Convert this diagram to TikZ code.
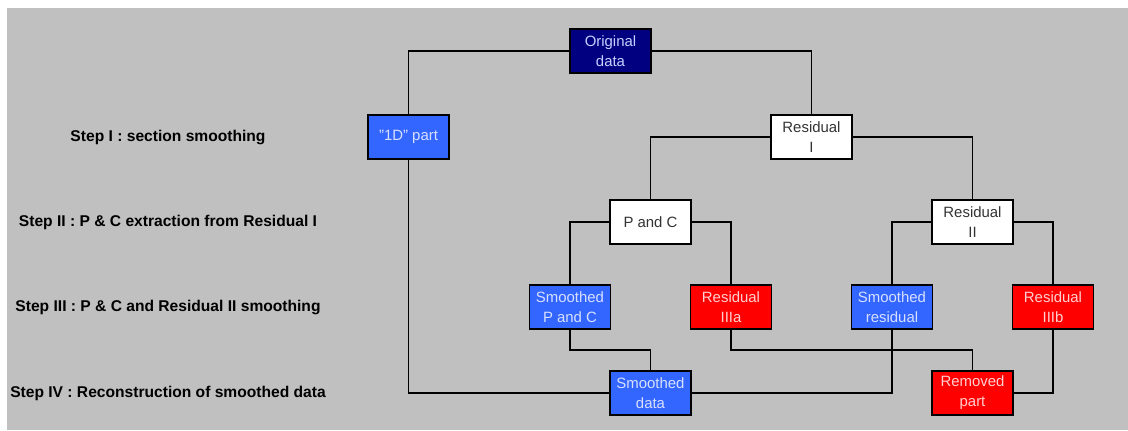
\documentclass[tikz,border=0pt]{standalone}
\usepackage{fontspec}
\setmainfont{Liberation Sans}
\definecolor{SMgray}{HTML}{C0C0C0}
\definecolor{SMnavy}{HTML}{000080}
\definecolor{SMblue}{HTML}{3366FF}
\definecolor{SMred}{HTML}{FF0000}
\definecolor{SMnavytext}{HTML}{C8D0FF}
\definecolor{SMbluetext}{HTML}{D8E0FF}
\definecolor{SMredtext}{HTML}{FFD0D0}
\usetikzlibrary{calc, positioning}

\begin{document}
\begin{tikzpicture}[x=0.75pt, y=-0.75pt,
   box/.style={draw=black, line width=1.3pt, minimum width=60.75pt, minimum height=33pt,
      inner sep=0pt, align=center, font=\fontsize{11.2}{15}\selectfont},
   origbox/.style={box, fill=SMnavy, text=SMnavytext},
   keptbox/.style={box, fill=SMblue, text=SMbluetext},
   resbox/.style={box, fill=white, text=black!80},
   cutbox/.style={box, fill=SMred, text=SMredtext},
   steplabel/.style={font=\fontsize{11.7}{15}\selectfont\bfseries, text=black},
   link/.style={draw=black, line width=1.3pt}]
      % Page and background
      \fill[white] (0,0) rectangle (1128,430);
      \useasboundingbox (0,0) rectangle (1128,430);
      \fill[SMgray] (7,8) rectangle (1128,430);
      % Step labels
      \node[steplabel] (stepI) at (168,137) {Step I : section smoothing};
      \node[steplabel] (stepII) at (168,222) {Step II : P \& C extraction from Residual I};
      \node[steplabel] (stepIII) at (168,307) {Step III : P \& C and Residual II smoothing};
      \node[steplabel] (stepIV) at (168,393) {Step IV : Reconstruction of smoothed data};
      % Boxes
      \node[origbox] (orig) at (610.5,51) {Original\\data};
      \node[keptbox] (oned) at (408.5,137) {"1D" part};
      \node[resbox] (resI) at (811.5,137) {Residual\\I};
      \node[resbox] (pc) at (650.5,222) {P and C};
      \node[resbox] (resII) at (972.5,222) {Residual\\II};
      \node[keptbox] (smpc) at (570,307) {Smoothed\\P and C};
      \node[cutbox] (resIIIa) at (731,307) {Residual\\IIIa};
      \node[keptbox] (smres) at (892,307) {Smoothed\\residual};
      \node[cutbox] (resIIIb) at (1053,307) {Residual\\IIIb};
      \node[keptbox] (smdata) at (650.5,393) {Smoothed\\data};
      \node[cutbox] (removed) at (972.5,393) {Removed\\part};
      % Splitting
      \draw[link] (orig.west) -| (oned.north);
      \draw[link] (orig.east) -| (resI.north);
      \draw[link] (resI.west) -| (pc.north);
      \draw[link] (resI.east) -| (resII.north);
      \draw[link] (pc.west) -| (smpc.north);
      \draw[link] (pc.east) -| (resIIIa.north);
      \draw[link] (resII.west) -| (smres.north);
      \draw[link] (resII.east) -| (resIIIb.north);
      % Reconstruction
      \draw[link] (oned.south) |- (smdata.west);
      \draw[link] (smres.south) |- (smdata.east);
      \draw[link] (smpc.south) |- ($(smpc.south)!0.5!(smdata.north)$) -| (smdata.north);
      \draw[link] (resIIIa.south) |- ($(resIIIa.south)!0.5!(removed.north)$) -| (removed.north);
      \draw[link] (resIIIb.south) |- (removed.east);
   \end{tikzpicture}
\end{document}
